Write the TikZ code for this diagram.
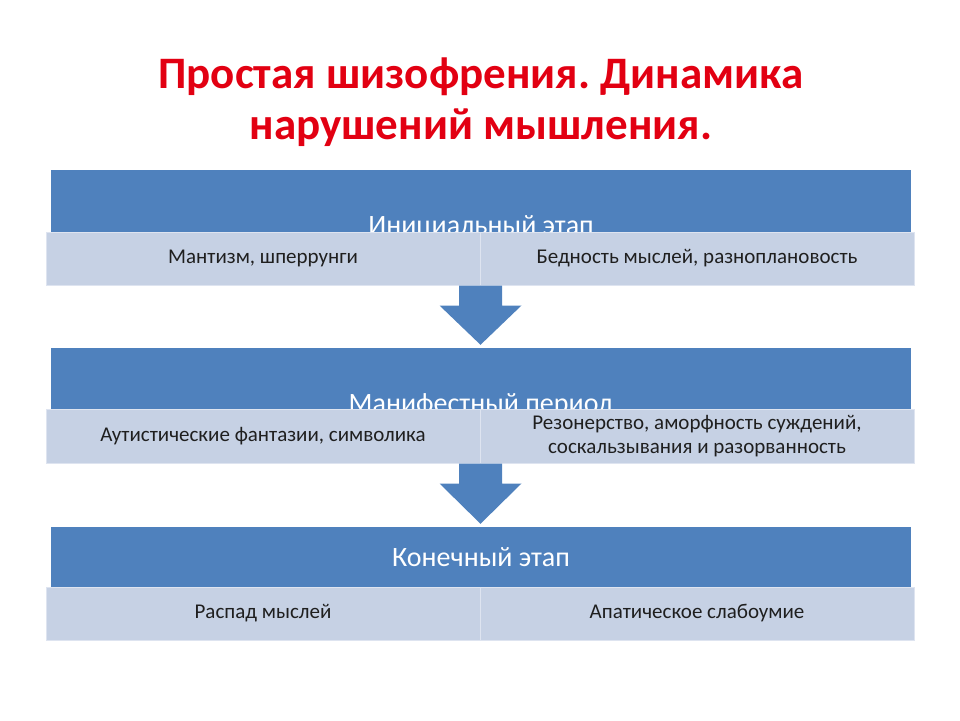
\documentclass[tikz,border=0pt]{standalone}
\usepackage{fontspec}
\setmainfont{Carlito}
\frenchspacing
\usetikzlibrary{calc,positioning}
\definecolor{stageblue}{RGB}{79,129,189}
\definecolor{celltint}{RGB}{198,209,228}
\definecolor{celledge}{RGB}{222,228,240}
\definecolor{titlered}{RGB}{226,0,18}
\tikzset{
  slide title/.style={font=\bfseries\fontsize{45}{51}\selectfont,text=titlered,align=center},
  stage head/.style={rectangle,fill=stageblue,draw=none,minimum width=860pt,inner sep=0pt,
    text=white,font=\fontsize{28}{32}\selectfont},
  stage cell/.style={rectangle,fill=celltint,draw=celledge,line width=1pt,minimum width=434pt,
    minimum height=53pt,inner sep=0pt,align=center,text={black!88},font=\fontsize{21}{24}\selectfont},
  stage arrow/.style={fill=stageblue},
}
\begin{document}
\begin{tikzpicture}[x=1pt,y=-1pt]
  \useasboundingbox (0,0) rectangle (960,720);
  \node[slide title] (title) at (481,102) {Простая шизофрения. Динамика\\нарушений мышления.};
  % initial stage
  \node[stage head,minimum height=115pt] (s1) at (481,227.5) {Инициальный этап};
  \node[stage cell] (c1l) at (263,258.5) {Мантизм, шперрунги};
  \node[stage cell] (c1r) at (697,258.5) {Бедность мыслей, разноплановость};
  % manifest period
  \node[stage head,minimum height=115pt] (s2) at (481,405.5) {Манифестный период};
  \node[stage cell,minimum height=54pt] (c2l) at (263,436) {Аутистические фантазии, символика};
  \node[stage cell,minimum height=54pt] (c2r) at (697,436) {Резонерство, аморфность суждений,\\соскальзывания и разорванность};
  % final stage
  \node[stage head,minimum height=60pt] (s3) at (481,557) {Конечный этап};
  \node[stage cell] (c3l) at (263,613.5) {Распад мыслей};
  \node[stage cell] (c3r) at (697,613.5) {Апатическое слабоумие};
  % arrows between stages
  \fill[stage arrow] ($(c1l.south east)+(-21.5,0)$) -- ++(43,0) -- ++(0,20) -- ++(19.5,0)
    -- ($(c1l.south east |- s2.north)+(0,-3)$) -- ($(c1l.south east)+(-41,20)$) -- ++(19.5,0) -- cycle;
  \fill[stage arrow] ($(c2l.south east)+(-21.5,0)$) -- ++(43,0) -- ++(0,20) -- ++(19.5,0)
    -- ($(c2l.south east |- s3.north)+(0,-3)$) -- ($(c2l.south east)+(-41,20)$) -- ++(19.5,0) -- cycle;
\end{tikzpicture}
\end{document}
